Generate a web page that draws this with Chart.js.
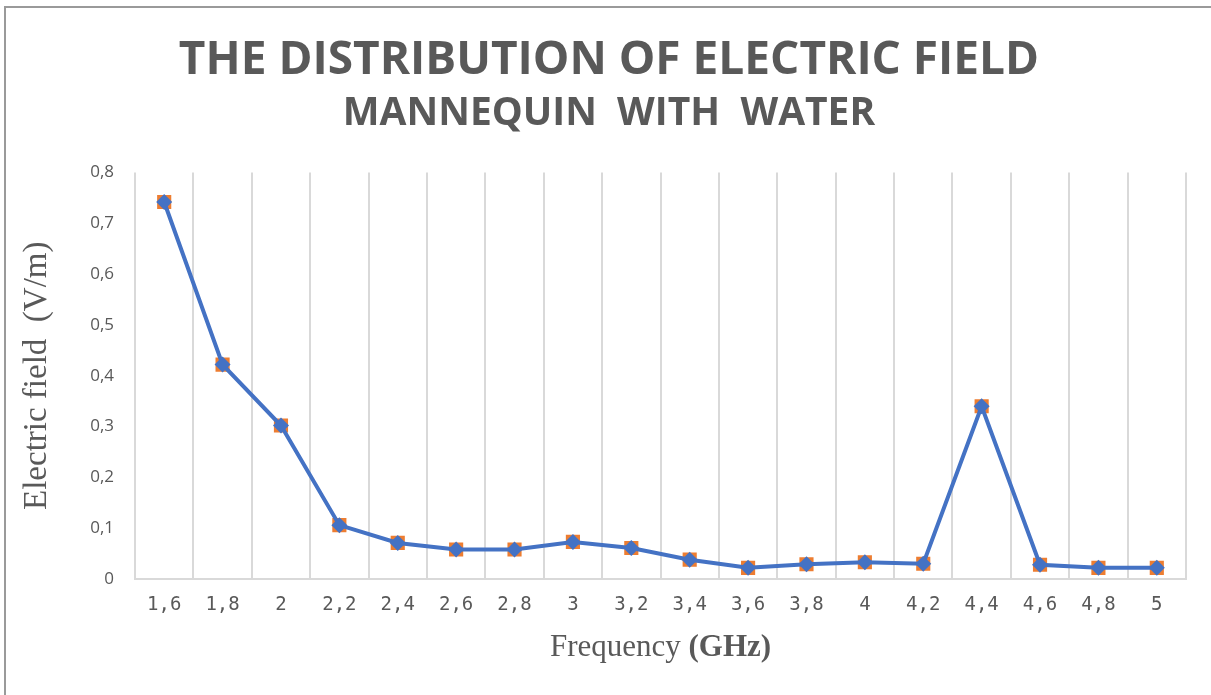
<!DOCTYPE html>
<html>
<head>
<meta charset="utf-8">
<script src="https://cdn.jsdelivr.net/npm/chart.js@4/dist/chart.umd.min.js"></script>
<style>
  html, body { margin: 0; padding: 0; background: #fff; }
  #wrap { position: relative; width: 1211px; height: 695px; overflow: hidden; }
  #frame { position: absolute; left: 4px; top: 6px; width: 1300px; height: 800px;
           border-left: 2px solid #9a9a9a; border-top: 2px solid #9a9a9a; pointer-events: none; }
  canvas { position: absolute; left: 0; top: 0; }
</style>
</head>
<body>
<div id="wrap">
  <canvas id="c" width="1211" height="695"></canvas>
  <div id="frame"></div>
</div>
<script>
const categories = ['1,6','1,8','2','2,2','2,4','2,6','2,8','3','3,2','3,4','3,6','3,8','4','4,2','4,4','4,6','4,8','5'];
const fieldLine =   [0.742,0.422,0.302,0.106,0.071,0.058,0.058,0.073,0.061,0.038,0.022,0.029,0.033,0.030,0.340,0.028,0.022,0.022];
const fieldPoints = [0.742,0.422,0.302,0.106,0.071,0.058,0.058,0.073,0.061,0.038,0.022,0.029,0.033,0.030,0.340,0.028,0.022,0.022];
const yTicks = [0,0.1,0.2,0.3,0.4,0.5,0.6,0.7,0.8];

const titleText = 'THE DISTRIBUTION OF ELECTRIC FIELD';
const subtitleText = 'MANNEQUIN  WITH  WATER';
const yTitle = 'Electric field  (V/m)';
const xTitleNormal = 'Frequency ';
const xTitleBold = '(GHz)';

const GRAY = '#595959';

const xTitlePlugin = {
  id: 'xTitlePlugin',
  afterDraw(chart) {
    const ctx = chart.ctx;
    const area = chart.chartArea;
    ctx.save();
    ctx.fillStyle = GRAY;
    ctx.textBaseline = 'middle';
    const fN = '31px "Liberation Serif"';
    const fB = 'bold 31px "Liberation Serif"';
    ctx.font = fN; const w1 = ctx.measureText(xTitleNormal).width;
    ctx.font = fB; const w2 = ctx.measureText(xTitleBold).width;
    const cx = (area.left + area.right) / 2;
    let x = cx - (w1 + w2) / 2;
    const y = 648;
    ctx.textAlign = 'left';
    ctx.font = fN; ctx.fillText(xTitleNormal, x, y);
    ctx.font = fB; ctx.fillText(xTitleBold, x + w1, y);
    ctx.restore();
  }
};

new Chart(document.getElementById('c'), {
  type: 'line',
  data: {
    labels: categories,
    datasets: [
      {
        label: 'Electric field',
        data: fieldLine,
        borderColor: '#4472c4',
        backgroundColor: '#4472c4',
        borderWidth: 4,
        pointStyle: 'rectRot',
        pointRadius: 8,
        pointBorderWidth: 0,
        tension: 0,
        order: 0
      },
      {
        label: 'Electric field (markers)',
        data: fieldPoints,
        showLine: false,
        borderColor: '#ed7d31',
        backgroundColor: '#ed7d31',
        pointStyle: 'rect',
        pointRadius: 10,
        pointBorderWidth: 0,
        order: 1
      }
    ]
  },
  options: {
    responsive: false,
    animation: false,
    devicePixelRatio: 1,
    layout: { padding: { left: 32, right: 25, top: 0, bottom: 0 } },
    plugins: {
      legend: { display: false },
      tooltip: { enabled: false },
      title: {
        display: true,
        text: titleText,
        color: GRAY,
        font: { family: '"Open Sans"', size: 46, weight: 'bold', lineHeight: 1.1 },
        padding: { top: 36, bottom: 4 }
      },
      subtitle: {
        display: true,
        text: subtitleText,
        color: GRAY,
        font: { family: '"Open Sans"', size: 39, weight: 'bold', lineHeight: 1.1 },
        padding: { top: 2, bottom: 37 }
      }
    },
    scales: {
      x: {
        type: 'category',
        offset: true,
        grid: { display: true, offset: true, color: '#d9d9d9', lineWidth: 2, drawTicks: false },
        border: { display: true, color: '#d9d9d9', width: 2 },
        ticks: { color: GRAY, font: { family: '"DejaVu Sans Mono"', size: 19 }, padding: 15, maxRotation: 0, autoSkip: false },
        afterFit(scale) { scale.height = 116; }
      },
      y: {
        min: 0,
        max: 0.8,
        afterBuildTicks(scale) { scale.ticks = yTicks.map(v => ({ value: v })); },
        grid: { display: false, drawTicks: false },
        border: { display: false },
        ticks: {
          color: GRAY,
          font: { family: '"Open Sans"', size: 17 },
          padding: 21,
          callback: (v) => String(Math.round(v * 10) / 10).replace('.', ',')
        },
        title: {
          display: true,
          text: yTitle,
          color: GRAY,
          font: { family: '"Liberation Serif"', size: 33 },
          padding: { top: -14, bottom: 0 }
        },
        afterFit(scale) { scale.width = 103; }
      }
    }
  },
  plugins: [xTitlePlugin]
});
</script>
</body>
</html>
